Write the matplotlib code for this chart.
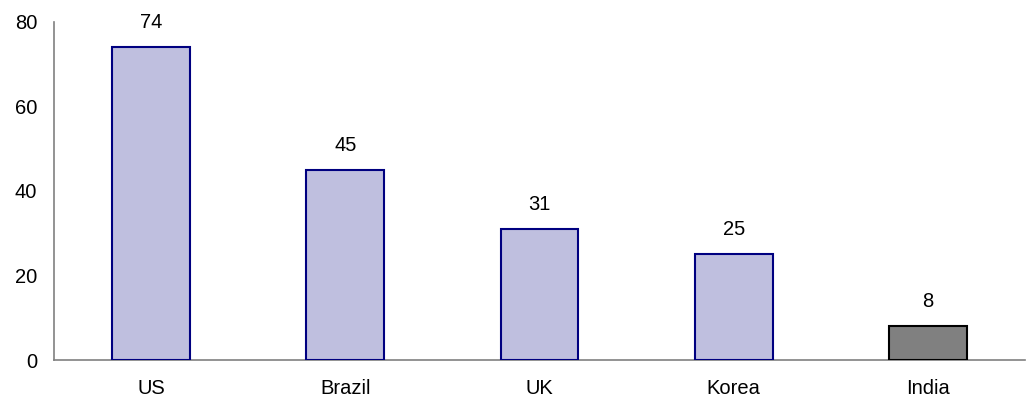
import matplotlib
matplotlib.use("Agg")
import matplotlib.pyplot as plt

plt.rcParams['font.family'] = ['Liberation Sans', 'DejaVu Sans']

categories = ["US", "Brazil", "UK", "Korea", "India"]
values = [74, 45, 31, 25, 8]
highlight = ["India"]

fig = plt.figure(figsize=(10.30, 3.99), dpi=100)
ax = fig.add_axes([54 / 1030, 1 - 360 / 399, 971 / 1030, 338 / 399])

fills = ["#808080" if c in highlight else "#BFBFDF" for c in categories]
edges = ["#000000" if c in highlight else "#000080" for c in categories]
x = list(range(len(categories)))
bars = ax.bar(x, values, width=0.4, color=fills, edgecolor=edges, linewidth=1.5, zorder=3)

for xi, v in zip(x, values):
    ax.annotate(f"{v}", (xi, v), xytext=(0, 11), textcoords="offset points",
                ha="center", va="bottom", fontsize=14.5, color="black")

ax.set_xlim(-0.5, len(categories) - 0.5)
ax.set_ylim(0, 80)
ax.set_yticks([0, 20, 40, 60, 80])
ax.set_xticks(x)
ax.set_xticklabels(categories)
ax.tick_params(axis="both", length=0, labelsize=14.5, colors="black")
ax.tick_params(axis="y", pad=12)
ax.tick_params(axis="x", pad=14)

for s in ["top", "right"]:
    ax.spines[s].set_visible(False)
for s in ["left", "bottom"]:
    ax.spines[s].set_color("#808080")
    ax.spines[s].set_linewidth(1.2)

fig.savefig("out.png", dpi=100)
